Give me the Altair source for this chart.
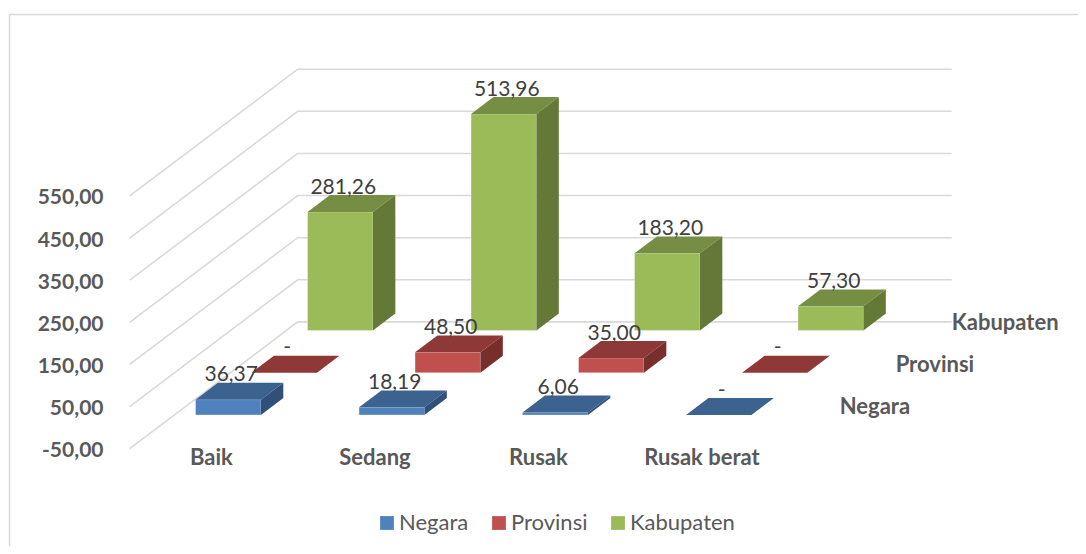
import altair as alt
import pandas as pd

categories = ["Baik", "Sedang", "Rusak", "Rusak berat"]
series = ["Negara", "Provinsi", "Kabupaten"]
negara = [36.37, 18.19, 6.06, 0]
provinsi = [0, 48.50, 35.00, 0]
kabupaten = [281.26, 513.96, 183.20, 57.30]
values_by_series = [negara, provinsi, kabupaten]
axis_ticks = [-50, 50, 150, 250, 350, 450, 550]

front_colors = ["#4F81BD", "#C0504D", "#9BBB59"]
top_colors = ["#3C6290", "#8E3937", "#758E43"]
side_colors = ["#30507A", "#782E2B", "#647938"]
GRID = "#D9D9D9"
AXIS_TEXT = "#595959"
LABEL_TEXT = "#404040"
FONT = "Lato"

# oblique projection of the 3D chart box: depth (0 = front wall, 1 = back wall)
DEPTH_X = 1.0275   # categories per full depth
DEPTH_Y = 301.0    # value units per full depth
GAP, BAR_W = 0.3, 0.4
SLOT_D, BAR_D = 1 / 3, 0.1333


def px(pos, d):
    return pos + d * DEPTH_X


def py(v, d):
    return v + d * DEPTH_Y


fronts, tops, sides, labels = [], [], [], []
for s, vals in enumerate(values_by_series):
    d0 = 0.1 + s * SLOT_D
    d1 = d0 + BAR_D
    for c, v in enumerate(vals):
        key = f"{s}-{c}"
        x0, x1 = c + GAP, c + GAP + BAR_W
        fronts.append(dict(series=series[s], x=px(x0, d0), x2=px(x1, d0), y=py(0, d0), y2=py(v, d0)))
        for d in (d0, d1):
            tops.append(dict(id=key, col=top_colors[s], x=px(x0, d), x2=px(x1, d), y=py(v, d)))
            sides.append(dict(id=key, col=side_colors[s], x=px(x1, d), y=py(0, d), y2=py(v, d)))
        text = f"{v:.2f}".replace(".", ",") if v else "-"
        labels.append(dict(x=px((x0 + x1) / 2, d0), y=py(v, d1), text=text))

grid = []
for t in axis_ticks:
    for i, (cx, d) in enumerate([(0, 0), (0, 1), (4, 1)]):
        grid.append(dict(tick=t, i=i, x=px(cx, d), y=py(t, d)))

cat_labels = [dict(x=i + 0.5, y=-88, text=c) for i, c in enumerate(categories)]
ser_labels = [dict(x=px(4, (i + 1) / 3), y=py(-68, (i + 1) / 3), text=n) for i, n in enumerate(series)]

# plot area 1070x538: 163.5 px per category, 0.4212 px per value unit
xs = alt.Scale(domain=[-0.7443, 5.8001], nice=False, zero=False)
ys = alt.Scale(domain=[-281, 996.3], nice=False, zero=False)
X = lambda f="x": alt.X(f"{f}:Q", scale=xs, axis=None, stack=None)
Y = lambda f="y": alt.Y(f"{f}:Q", scale=ys, axis=None, stack=None)

grid_layer = alt.Chart(pd.DataFrame(grid)).mark_line(color=GRID, strokeWidth=1.6).encode(
    x=X(),
    y=alt.Y("y:Q", scale=ys, stack=None, axis=alt.Axis(
        values=axis_ticks, title=None, domain=False, ticks=False, grid=False,
        offset=-95, labelPadding=0, labelOffset=2, labelFont=FONT, labelFontWeight="bold", labelFontSize=21,
        labelColor=AXIS_TEXT,
        labelExpr="replace(replace(format(datum.value, '.2f'), '.', ','), '\u2212', '-')")),
    detail="tick:N", order="i:Q")

frame_left = alt.Chart(pd.DataFrame({"a": [0]})).mark_rule(color=GRID, strokeWidth=1.5).encode(
    x=alt.value(1.5), y=alt.value(6.5), y2=alt.value(538))
frame_top = alt.Chart(pd.DataFrame({"a": [0]})).mark_rule(color=GRID, strokeWidth=1.5).encode(
    x=alt.value(1.5), x2=alt.value(1070), y=alt.value(6.5))

front_layer = alt.Chart(pd.DataFrame(fronts)).mark_rect(
    stroke="white", strokeOpacity=0.3, strokeWidth=1
).encode(
    x=X(), x2="x2:Q", y=Y(), y2="y2:Q",
    color=alt.Color("series:N", scale=alt.Scale(domain=series, range=front_colors), legend=alt.Legend(
        title=None, orient="none", legendX=368, legendY=504, direction="horizontal", columns=3,
        symbolType="square", symbolSize=190, symbolStrokeWidth=0, symbolOpacity=1, labelFont=FONT,
        labelFontSize=22, labelColor=AXIS_TEXT, labelOffset=1, columnPadding=19, padding=0)))

top_layer = alt.Chart(pd.DataFrame(tops)).mark_area(orient="horizontal").encode(
    x=X(), x2="x2:Q", y=Y(), detail="id:N", color=alt.Color("col:N", scale=None))
side_layer = alt.Chart(pd.DataFrame(sides)).mark_area(orient="vertical").encode(
    x=X(), y=Y(), y2="y2:Q", detail="id:N", color=alt.Color("col:N", scale=None))

label_layer = alt.Chart(pd.DataFrame(labels)).mark_text(
    font=FONT, fontSize=21, color=LABEL_TEXT, baseline="alphabetic", align="center", dx=3, dy=-1.5
).encode(x=X(), y=Y(), text="text:N")
cat_layer = alt.Chart(pd.DataFrame(cat_labels)).mark_text(
    font=FONT, fontSize=22, fontWeight="bold", color=AXIS_TEXT, baseline="alphabetic", align="center"
).encode(x=X(), y=Y(), text="text:N")
ser_layer = alt.Chart(pd.DataFrame(ser_labels)).mark_text(
    font=FONT, fontSize=22, fontWeight="bold", color=AXIS_TEXT, baseline="alphabetic", align="left"
).encode(x=X(), y=Y(), text="text:N")

chart = alt.layer(
    frame_left, frame_top, grid_layer, front_layer, top_layer, side_layer,
    label_layer, cat_layer, ser_layer
).resolve_scale(color="independent").resolve_axis(y="independent").properties(
    width=1070, height=538, padding=0, background="white",
    autosize=alt.AutoSizeParams(type="none")
).configure_view(stroke=None)

chart.save("out.html", embed_options={"renderer": "svg", "actions": False})
